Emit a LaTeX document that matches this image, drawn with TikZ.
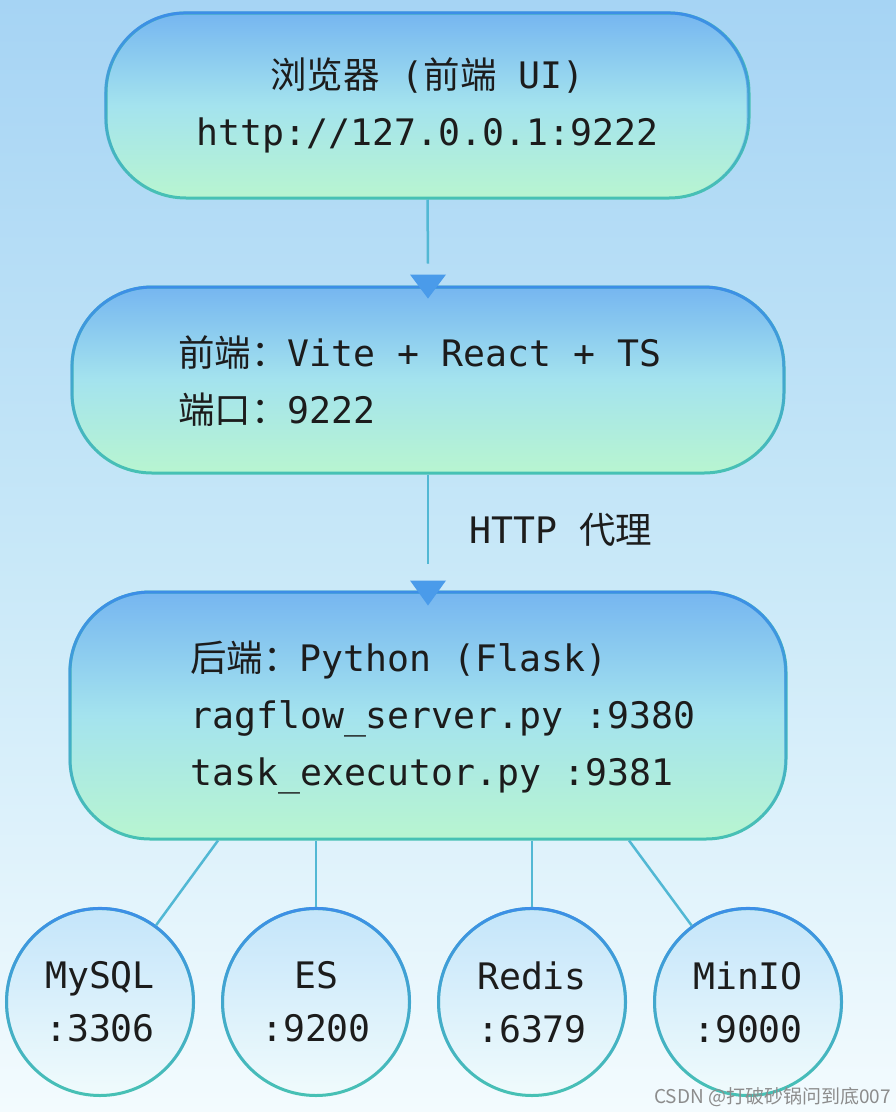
\documentclass[tikz,border=0pt]{standalone}
\usepackage{fontspec}
\setmainfont{DejaVu Sans Mono}
\newfontfamily\cjk{Noto Sans CJK SC}
\newfontfamily\wmfont{Noto Sans CJK SC}
\usetikzlibrary{arrows.meta,fadings,shadings}
\definecolor{bgtop}{HTML}{A6D4F4}
\definecolor{bgmid}{HTML}{C8E8F8}
\definecolor{bgbot}{HTML}{F3FBFE}
\definecolor{boxtop}{HTML}{76B6F0}
\definecolor{boxmid}{HTML}{A4E3EE}
\definecolor{boxbot}{HTML}{B8F5D0}
\definecolor{edgetop}{HTML}{3D8EE8}
\definecolor{edgebot}{HTML}{48C2B4}
\definecolor{circtop}{HTML}{C4E5FA}
\definecolor{circbot}{HTML}{F0FBFC}
\definecolor{arrowblue}{HTML}{4A9BEA}
\definecolor{linkcol}{HTML}{52B8D4}
\definecolor{txtcol}{HTML}{1C1C1C}
\tikzfading[name=topopaque, top color=transparent!0, bottom color=transparent!100]
\newcommand{\usc}{\char"5F\relax}
\begin{document}
\begin{tikzpicture}[x=1pt,y=-1pt,
  txtstyle/.style={font=\fontsize{36.5}{57}\selectfont, text=txtcol, inner sep=0pt},
  boxnode/.style={rectangle, rounded corners=80pt, draw=edgebot, line width=3pt,
    top color=boxtop, bottom color=boxbot, middle color=boxmid,
    postaction={draw=edgetop, line width=3pt, path fading=topopaque}},
  dbnode/.style={circle, minimum size=187pt, inner sep=0pt, draw=edgebot, line width=3pt,
    top color=circtop, bottom color=circbot,
    postaction={draw=edgetop, line width=3pt, path fading=topopaque},
    txtstyle, align=center, font=\fontsize{36.5}{53}\selectfont},
  flow/.style={draw=linkcol, line width=2.5pt},
  tiphead/.style={fill=arrowblue},
  link/.style={draw=linkcol, line width=2.5pt}
]
\useasboundingbox (0,0) rectangle (896,1112);
\shade[top color=bgtop, bottom color=bgbot, middle color=bgmid] (0,0) rectangle (896,1112);

% boxes
\node[boxnode, minimum width=643pt, minimum height=185pt, txtstyle, align=center] (ui) at (427.5,105.5)
  {{\cjk 浏览器} ({\cjk 前端} UI)\\http://127.0.0.1:9222};
\node[boxnode, minimum width=712pt, minimum height=186pt] (fe) at (428,380) {};
\node[txtstyle, align=left, anchor=west] (fetext) at (178,381)
  {{\cjk 前端：}Vite + React + TS\\{\cjk 端口：}9222};
\node[boxnode, minimum width=716pt, minimum height=247pt] (be) at (428,715.5) {};
\node[txtstyle, align=left, anchor=west] (betext) at (190,717)
  {{\cjk 后端：}Python (Flask)\\ragflow\usc server.py :9380\\task\usc executor.py :9381};

% databases
\node[dbnode] (mysql) at (100,1002) {MySQL\\:3306};
\node[dbnode] (es) at (316,1002) {ES\\:9200};
\node[dbnode] (redis) at (532,1002) {Redis\\:6379};
\node[dbnode] (minio) at (748,1002) {MinIO\\:9000};

% connectors with arrowheads
\draw[flow] (ui.south) -- ([yshift=22pt]fe.north);
\fill[tiphead] ([xshift=-18pt,yshift=11pt]fe.north) -- ([xshift=18pt,yshift=11pt]fe.north) -- ([yshift=-13pt]fe.north) -- cycle;
\draw[flow] (fe.south) -- ([yshift=27pt]be.north);
\fill[tiphead] ([xshift=-18pt,yshift=10pt]be.north) -- ([xshift=18pt,yshift=10pt]be.north) -- ([yshift=-15pt]be.north) -- cycle;
\node[txtstyle, anchor=west] (proxy) at (469,530) {HTTP {\cjk 代理}};

\draw[link] ([xshift=-210pt]be.south) -- (mysql);
\draw[link] ([xshift=-112pt]be.south) -- (es);
\draw[link] ([xshift=104pt]be.south) -- (redis);
\draw[link] ([xshift=201pt]be.south) -- (minio);

% watermark
\node[anchor=east, font=\wmfont\fontsize{19}{19}\selectfont, text=black!45, inner sep=0pt] (wm) at (891,1097) {CSDN @打破砂锅问到底007};
\end{tikzpicture}
\end{document}
